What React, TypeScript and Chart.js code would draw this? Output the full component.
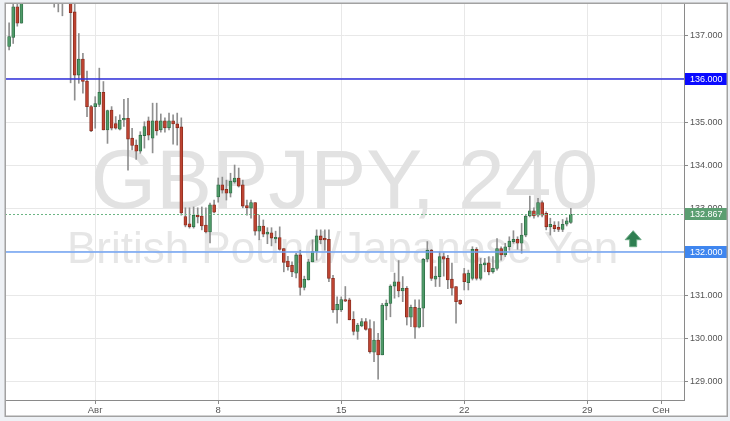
import React, { useEffect, useRef } from "react";
import { Chart, registerables } from "chart.js";

Chart.register(...registerables);

// 4-hour candles, GBPJPY (index 0 = first candle on the left)
const OPEN = [
  136.75, 136.96, 137.67, 137.29, 137.9, 138.1, 138.3, 138.2, 138.4, 138.3,
  138.2, 138.1, 138.0, 138.05, 137.95, 138.0, 137.55, 136.09, 136.46, 135.95,
  135.36, 135.36, 135.41, 135.69, 134.82, 135.28, 134.97, 134.84, 135.05, 135.09,
  134.63, 134.47, 134.33, 134.69, 135.03, 134.63, 135.03, 134.82, 135.03, 134.87,
  135.03, 134.96, 134.89, 132.82, 132.65, 132.58, 132.85, 132.83, 132.62, 132.46,
  133.09, 133.27, 133.55, 133.45, 133.36, 133.62, 133.71, 133.55, 133.07, 133.01,
  133.14, 132.48, 132.6, 132.41, 132.44, 132.3, 132.33, 132.08, 131.79, 131.69,
  131.51, 131.93, 131.18, 131.35, 131.77, 132.01, 132.37, 132.31, 132.29, 131.39,
  130.66, 130.66, 130.9, 130.89, 130.44, 130.16, 130.29, 130.39, 130.23, 129.68,
  129.96, 129.62, 130.75, 130.81, 131.21, 131.31, 131.1, 131.16, 130.49, 130.72,
  130.26, 130.7, 131.83, 132.04, 131.37, 131.43, 131.89, 131.85, 131.37, 131.2,
  130.88, 131.5, 131.29, 131.39, 132.06, 131.39, 131.7, 131.75, 131.54, 131.62,
  132.08, 131.93, 132.12, 132.24, 132.29, 132.2, 132.39, 132.83, 132.95, 132.85,
  133.14, 132.89, 132.58, 132.62, 132.57, 132.52, 132.64, 132.68,
];
const HIGH = [
  137.3, 137.75, 137.8, 138.0, 138.3, 138.5, 138.6, 138.6, 138.5, 138.45,
  138.35, 138.3, 138.2, 138.2, 138.15, 138.1, 137.8, 137.05, 136.59, 136.18,
  135.39, 135.59, 136.25, 135.94, 135.28, 135.36, 135.13, 135.17, 135.53, 135.55,
  134.86, 134.59, 134.78, 135.01, 135.12, 135.44, 135.44, 135.19, 135.1, 135.21,
  135.17, 135.21, 135.1, 133.02, 133.02, 133.04, 133.02, 133.04, 133.02, 133.13,
  133.2, 133.71, 133.73, 133.66, 133.82, 134.01, 133.94, 133.66, 133.2, 133.2,
  133.14, 132.85, 132.74, 132.56, 132.56, 132.48, 132.58, 132.08, 131.9, 131.77,
  131.97, 132.04, 131.44, 131.83, 132.28, 132.51, 132.51, 132.51, 132.51, 131.46,
  130.96, 130.96, 131.2, 130.93, 130.62, 130.35, 130.46, 130.46, 130.43, 130.39,
  130.12, 130.81, 130.89, 131.24, 131.51, 131.8, 131.43, 131.2, 130.77, 130.89,
  130.89, 131.85, 132.24, 132.06, 131.66, 132.0, 131.98, 131.92, 131.74, 131.2,
  130.89, 131.62, 131.58, 132.12, 132.1, 131.85, 131.85, 131.89, 131.89, 132.31,
  132.12, 132.2, 132.35, 132.49, 132.35, 132.66, 132.85, 133.29, 133.02, 133.24,
  133.18, 132.93, 132.78, 132.7, 132.7, 132.75, 132.79, 133.01,
];
const LOW = [
  136.67, 136.82, 137.22, 137.29, 137.85, 138.0, 138.0, 138.1, 138.1, 138.0,
  137.9, 137.66, 137.55, 137.46, 137.85, 135.91, 135.51, 135.9, 135.67, 135.13,
  134.78, 134.86, 135.36, 134.82, 134.51, 134.82, 134.84, 134.82, 134.9, 133.89,
  134.36, 134.14, 134.28, 134.4, 134.59, 134.29, 134.7, 134.77, 134.77, 134.82,
  134.49, 134.47, 132.85, 132.58, 132.55, 132.55, 132.67, 132.51, 132.44, 132.21,
  132.9, 133.15, 133.36, 133.2, 133.27, 133.59, 133.5, 133.02, 132.85, 132.78,
  132.39, 132.28, 132.35, 132.19, 132.14, 132.21, 132.04, 131.54, 131.58, 131.43,
  131.4, 131.0, 131.12, 131.35, 131.77, 131.81, 132.19, 132.04, 131.31, 130.6,
  130.35, 130.62, 130.85, 130.43, 130.08, 129.98, 130.27, 130.19, 129.66, 129.46,
  129.06, 129.62, 130.43, 130.5, 130.93, 130.96, 130.85, 130.31, 130.27, 130.0,
  130.24, 130.27, 131.77, 131.34, 131.2, 131.2, 131.44, 131.15, 131.0, 130.35,
  130.78, 131.12, 131.12, 131.35, 131.35, 131.35, 131.54, 131.47, 131.51, 131.58,
  131.81, 131.89, 132.04, 132.2, 132.06, 131.97, 132.35, 132.81, 132.78, 132.81,
  132.81, 132.51, 132.39, 132.47, 132.47, 132.47, 132.6, 132.66,
];
const CLOSE = [
  136.98, 137.67, 137.29, 137.9, 138.1, 138.3, 138.2, 138.4, 138.3, 138.2,
  138.1, 138.0, 138.05, 137.95, 138.0, 137.53, 136.09, 136.46, 135.94, 135.36,
  134.8, 135.43, 135.69, 134.82, 135.27, 134.86, 134.86, 135.05, 135.09, 134.61,
  134.46, 134.33, 134.7, 134.9, 134.7, 135.03, 134.8, 135.03, 134.87, 135.03,
  134.96, 134.87, 132.9, 132.62, 132.58, 132.85, 132.81, 132.6, 132.46, 133.09,
  132.92, 133.55, 133.43, 133.36, 133.64, 133.71, 133.52, 133.06, 133.02, 133.14,
  132.48, 132.6, 132.41, 132.46, 132.32, 132.34, 132.06, 131.76, 131.66, 131.54,
  131.93, 131.18, 131.37, 131.77, 132.01, 132.37, 132.28, 132.28, 131.39, 130.66,
  130.79, 130.9, 130.86, 130.43, 130.16, 130.31, 130.39, 130.21, 129.69, 129.96,
  129.62, 130.77, 130.82, 131.21, 131.31, 131.1, 131.16, 130.49, 130.72, 130.26,
  130.7, 131.83, 132.04, 131.39, 131.44, 131.89, 131.83, 131.35, 131.16, 130.85,
  130.8, 131.31, 131.51, 132.06, 131.39, 131.72, 131.75, 131.54, 131.62, 132.08,
  131.93, 132.12, 132.25, 132.29, 132.2, 132.39, 132.83, 132.95, 132.83, 133.14,
  132.85, 132.58, 132.64, 132.54, 132.52, 132.64, 132.72, 132.867,
];

// x axis: candle index positions of the period ticks, and their labels
const X_TICKS = [21, 51, 81, 111, 141, 159];
const X_TICK_LABELS = ["Авг", "8", "15", "22", "29", "Сен"];
const X_MIN = -1;
const X_MAX = 164.6;

// y axis
const Y_TICKS = [129, 130, 131, 132, 133, 134, 135, 136, 137];
const Y_MIN = 128.576;
const Y_MAX = 137.756;

// horizontal levels and the last price
const LEVELS = [136, 132];
const LEVEL_LINE_COLORS = ["#2f2fdc", "#6fa2f3"];
const LEVEL_BOX_COLORS = ["#0a0aff", "#3f86ef"];
const LAST_PRICE = 132.867;
const ARROW_AT = { x: 152.2, y: 132.306 };

const TITLE = "GBPJPY, 240";
const SUBTITLE = "British Pound/Japanese Yen";

const GREEN_FILL = "#4f9a68";
const GREEN_EDGE = "#2c6b44";
const RED_FILL = "#bd4331";
const RED_EDGE = "#872a1d";
const WICK = "#8f8f8f";

const chartPlugin = {
  id: "fxDecor",
  beforeDraw(chart: any) {
    const { ctx, width, height, chartArea } = chart;
    ctx.save();
    ctx.fillStyle = "#eef1f5";
    ctx.fillRect(0, 0, width, height);
    ctx.fillStyle = "#ffffff";
    ctx.fillRect(chartArea.left, chartArea.top, width - 3 - chartArea.left, height - 5 - chartArea.top);
    ctx.restore();
  },
  beforeDatasetsDraw(chart: any) {
    const { ctx, chartArea } = chart;
    const cx = (chartArea.left + chartArea.right) / 2;
    ctx.save();
    ctx.beginPath();
    ctx.rect(chartArea.left, chartArea.top, chartArea.right - chartArea.left, chartArea.bottom - chartArea.top);
    ctx.clip();
    ctx.fillStyle = "#e2e2e2";
    ctx.textAlign = "center";
    ctx.textBaseline = "alphabetic";
    ctx.font = "84px Arial, 'Liberation Sans', sans-serif";
    ctx.fillText(TITLE, cx, chartArea.top + 205);
    ctx.font = "44px Arial, 'Liberation Sans', sans-serif";
    ctx.fillStyle = "#e6e6e6";
    ctx.fillText(SUBTITLE, cx - 2, chartArea.top + 260);
    ctx.restore();
  },
  afterDatasetsDraw(chart: any) {
    const { ctx, chartArea, scales } = chart;
    const ys = scales.y;
    const xs = scales.x;
    ctx.save();
    LEVELS.forEach((lv, i) => {
      const y = ys.getPixelForValue(lv);
      ctx.strokeStyle = LEVEL_LINE_COLORS[i];
      ctx.lineWidth = 1.5;
      ctx.beginPath();
      ctx.moveTo(chartArea.left, y);
      ctx.lineTo(chartArea.right, y);
      ctx.stroke();
    });
    const yl = Math.round(ys.getPixelForValue(LAST_PRICE)) + 0.5;
    ctx.strokeStyle = "#6cb584";
    ctx.lineWidth = 1;
    ctx.setLineDash([2, 2]);
    ctx.beginPath();
    ctx.moveTo(chartArea.left, yl);
    ctx.lineTo(chartArea.right, yl);
    ctx.stroke();
    ctx.setLineDash([]);

    // arrow
    const ax = xs.getPixelForValue(ARROW_AT.x);
    const ay = ys.getPixelForValue(ARROW_AT.y);
    ctx.beginPath();
    ctx.moveTo(ax, ay - 8);
    ctx.lineTo(ax + 8, ay + 1);
    ctx.lineTo(ax + 3.5, ay + 1);
    ctx.lineTo(ax + 3.5, ay + 8);
    ctx.lineTo(ax - 3.5, ay + 8);
    ctx.lineTo(ax - 3.5, ay + 1);
    ctx.lineTo(ax - 8, ay + 1);
    ctx.closePath();
    ctx.fillStyle = "#2f7f51";
    ctx.fill();
    ctx.strokeStyle = "#6aa883";
    ctx.lineWidth = 1;
    ctx.stroke();
    ctx.restore();
  },
  afterDraw(chart: any) {
    const { ctx, chartArea, scales, width, height } = chart;
    const ys = scales.y;
    ctx.save();
    const boxes = [
      { v: LEVELS[0], c: LEVEL_BOX_COLORS[0] },
      { v: LEVELS[1], c: LEVEL_BOX_COLORS[1] },
      { v: LAST_PRICE, c: "#5b9e71" },
    ];
    ctx.font = "9px Arial, 'Liberation Sans', sans-serif";
    ctx.textBaseline = "middle";
    ctx.textAlign = "left";
    boxes.forEach((b) => {
      const y = ys.getPixelForValue(b.v);
      ctx.fillStyle = b.c;
      ctx.fillRect(chartArea.right + 1, Math.round(y) - 6, 42, 12);
      ctx.fillStyle = "#ffffff";
      ctx.fillText(b.v.toFixed(3), chartArea.right + 6, Math.round(y) + 0.5);
    });
    // panel frame
    ctx.strokeStyle = "#a2a2a2";
    ctx.lineWidth = 1.5;
    ctx.strokeRect(chartArea.left + 0.25, chartArea.top + 0.25, width - 3 - chartArea.left, height - 5 - chartArea.top);
    ctx.restore();
  },
};

export default function App() {
  const ref = useRef<HTMLCanvasElement | null>(null);
  useEffect(() => {
    document.body.style.margin = "0";
    const n = OPEN.length;
    const idx = Array.from({ length: n }, (_, i) => i);
    const up = idx.map((i) => CLOSE[i] >= OPEN[i]);
    const chart = new Chart(ref.current as HTMLCanvasElement, {
      type: "bar",
      data: {
        datasets: [
          {
            label: "wick",
            data: idx.map((i) => ({ x: i, y: [LOW[i], HIGH[i]] })) as any,
            backgroundColor: WICK,
            barThickness: 1,
            grouped: false,
            clip: 0,
            order: 2,
          } as any,
          {
            label: "body",
            data: idx.map((i) => ({ x: i, y: [OPEN[i], CLOSE[i]] })) as any,
            backgroundColor: idx.map((i) => (up[i] ? GREEN_FILL : RED_FILL)),
            borderColor: idx.map((i) => (up[i] ? GREEN_EDGE : RED_EDGE)),
            borderWidth: 0.8,
            borderSkipped: false,
            barThickness: 3,
            minBarLength: 1.5,
            grouped: false,
            clip: 0,
            order: 1,
          } as any,
        ],
      },
      options: {
        responsive: false,
        animation: false,
        events: [],
        layout: { padding: { left: 5, top: 3, right: 3, bottom: 4 } },
        plugins: { legend: { display: false }, tooltip: { enabled: false } },
        scales: {
          x: {
            type: "linear",
            min: X_MIN,
            max: X_MAX,
            offset: false,
            afterBuildTicks: (s: any) => {
              s.ticks = X_TICKS.map((v) => ({ value: v }));
            },
            afterFit: (s: any) => {
              s.height = 17;
              s.paddingLeft = 0;
              s.paddingRight = 0;
            },
            ticks: {
              autoSkip: false,
              maxRotation: 0,
              padding: 1,
              color: "#555555",
              font: { size: 9.5, family: "Arial, 'Liberation Sans', sans-serif" },
              callback: (_v: any, i: number) => X_TICK_LABELS[i],
            },
            grid: { color: "#e8e8e8", tickLength: 4, tickColor: "#8a8a8a", offset: false },
            border: { color: "#8a8a8a", width: 1 },
          },
          y: {
            position: "right",
            min: Y_MIN,
            max: Y_MAX,
            afterBuildTicks: (s: any) => {
              s.ticks = Y_TICKS.map((v) => ({ value: v }));
            },
            afterFit: (s: any) => {
              s.width = 43;
              s.paddingTop = 0;
              s.paddingBottom = 0;
            },
            ticks: {
              padding: 2,
              color: "#555555",
              font: { size: 9, family: "Arial, 'Liberation Sans', sans-serif" },
              callback: (v: any) => Number(v).toFixed(3),
            },
            grid: { color: "#e8e8e8", tickLength: 4, tickColor: "#8a8a8a" },
            border: { color: "#8a8a8a", width: 1 },
          },
        },
      } as any,
      plugins: [chartPlugin],
    });
    return () => chart.destroy();
  }, []);
  return (
    <div style={{ position: "fixed", left: 0, top: 0, width: 730, height: 421 }}>
      <canvas ref={ref} width={730} height={421} style={{ display: "block" }} />
    </div>
  );
}
